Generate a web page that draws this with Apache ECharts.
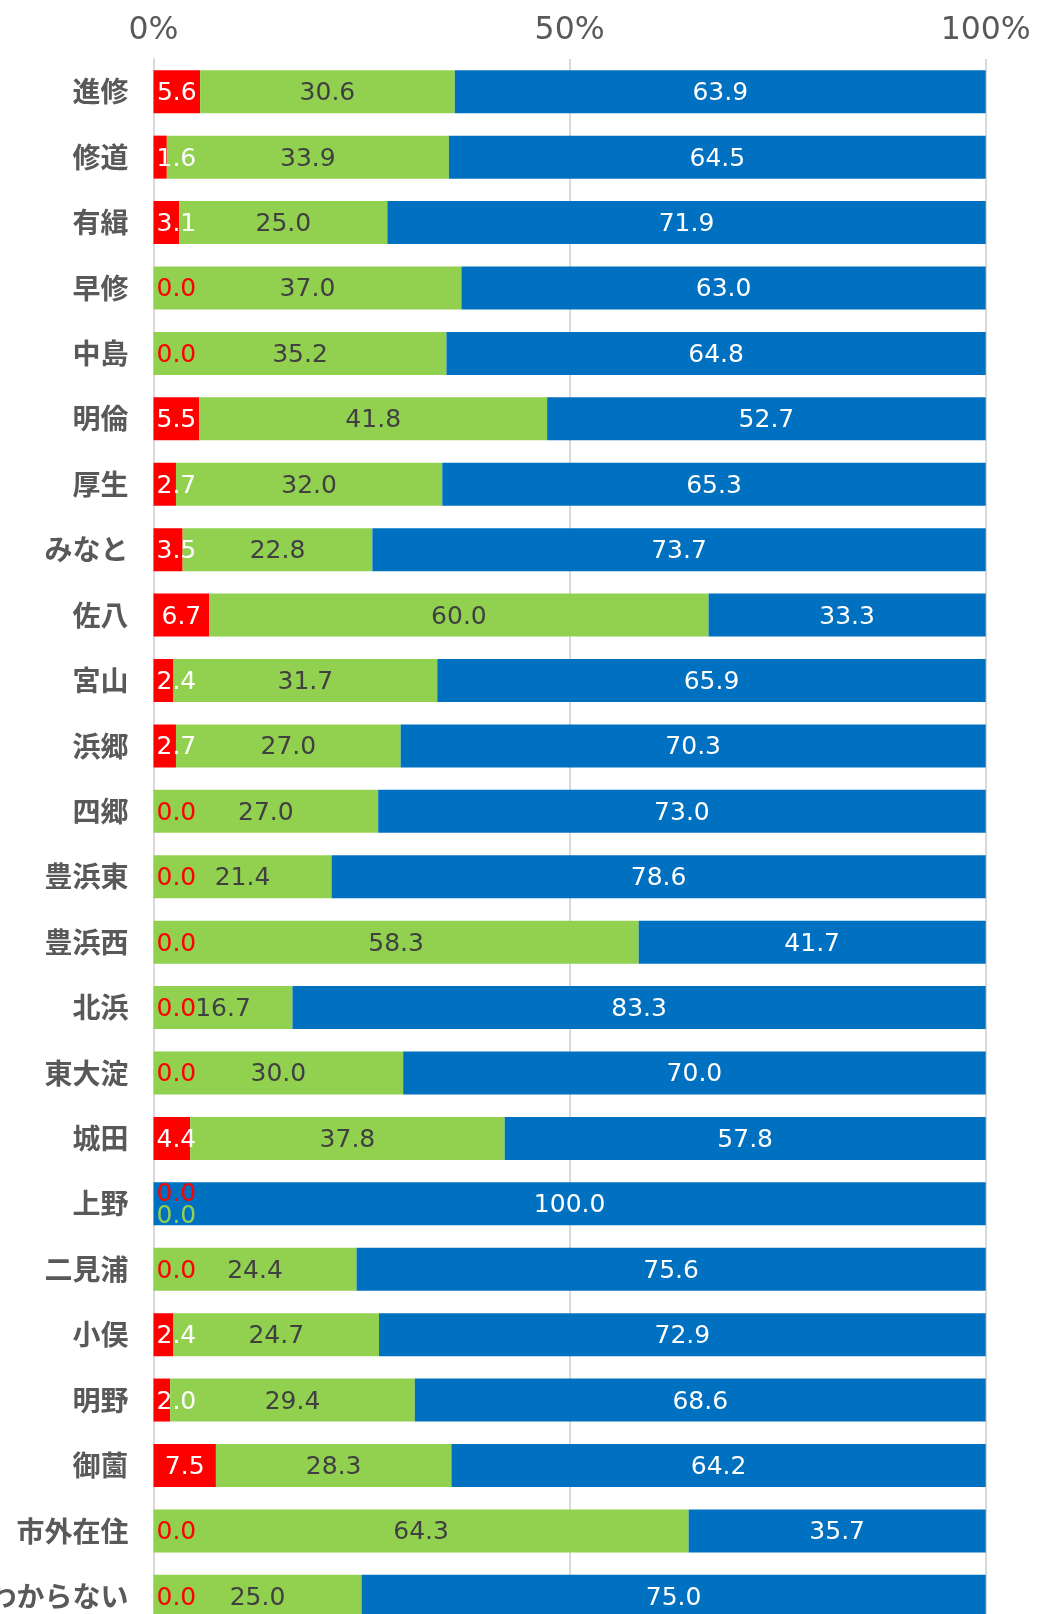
<!DOCTYPE html>
<html>
<head>
<meta charset="utf-8">
<script src="https://cdn.jsdelivr.net/npm/echarts@6/dist/echarts.min.js"></script>
<style>
html,body{margin:0;padding:0;background:#fff;}
#chart{width:1045px;height:1614px;}
</style>
</head>
<body>
<div id="chart"></div>
<script>
const categories = ['進修','修道','有緝','早修','中島','明倫','厚生','みなと','佐八','宮山','浜郷','四郷','豊浜東','豊浜西','北浜','東大淀','城田','上野','二見浦','小俣','明野','御薗','市外在住','わからない'];
const redValues   = [5.6, 1.6, 3.1, 0.0, 0.0, 5.5, 2.7, 3.5, 6.7, 2.4, 2.7, 0.0, 0.0, 0.0, 0.0, 0.0, 4.4, 0.0, 0.0, 2.4, 2.0, 7.5, 0.0, 0.0];
const greenValues = [30.6, 33.9, 25.0, 37.0, 35.2, 41.8, 32.0, 22.8, 60.0, 31.7, 27.0, 27.0, 21.4, 58.3, 16.7, 30.0, 37.8, 0.0, 24.4, 24.7, 29.4, 28.3, 64.3, 25.0];
const blueValues  = [63.9, 64.5, 71.9, 63.0, 64.8, 52.7, 65.3, 73.7, 33.3, 65.9, 70.3, 73.0, 78.6, 41.7, 83.3, 70.0, 57.8, 100.0, 75.6, 72.9, 68.6, 64.2, 35.7, 75.0];
const tickLabels = {0: '0%', 50: '50%', 100: '100%'};

const RED = '#FF0000', GREEN = '#92D050', BLUE = '#0070C0';
const FONT = '"Noto Sans CJK JP", "Noto Sans", sans-serif';
const NUMFONT = '"DejaVu Sans", "Noto Sans", sans-serif';

const chart = echarts.init(document.getElementById('chart'), null, {renderer: 'canvas'});

function keepInside(params, dy) {
  const dx = Math.max(0, params.rect.x + 3 - params.labelRect.x);
  return {dx: dx, dy: dy + 2};
}

const labelBase = {
  show: true,
  position: 'inside',
  fontSize: 25,
  fontFamily: NUMFONT,
  formatter: p => Number(p.value).toFixed(1)
};

chart.setOption({
  animation: false,
  backgroundColor: '#ffffff',
  grid: {
    left: 153.5,
    right: 59.3,
    top: 59,
    height: 1570,
    containLabel: false,
    outerBoundsMode: 'none'
  },
  xAxis: {
    type: 'value',
    position: 'top',
    min: 0,
    max: 100,
    interval: 50,
    axisLine: {show: false},
    axisTick: {show: false},
    splitLine: {show: true, lineStyle: {color: '#d9d9d9', width: 2}},
    axisLabel: {
      fontSize: 31.5,
      color: '#595959',
      fontFamily: NUMFONT,
      margin: 12,
      formatter: v => tickLabels[v] !== undefined ? tickLabels[v] : v + '%'
    }
  },
  yAxis: {
    type: 'category',
    inverse: true,
    data: categories,
    axisTick: {show: false},
    axisLine: {show: true, lineStyle: {color: '#d9d9d9', width: 2}},
    axisLabel: {
      fontSize: 28,
      color: '#595959',
      fontFamily: FONT,
      fontWeight: 'bold',
      margin: 25
    }
  },
  series: [
    {
      name: 'red',
      type: 'bar',
      stack: 'total',
      barWidth: 43,
      itemStyle: {color: RED},
      label: Object.assign({}, labelBase),
      labelLayout: function (params) {
        const i = params.dataIndex;
        const dy = (redValues[i] === 0 && greenValues[i] === 0) ? -11 : 0;
        return keepInside(params, dy);
      },
      data: redValues.map(v => ({value: v, label: {color: v === 0 ? RED : '#ffffff'}}))
    },
    {
      name: 'green',
      type: 'bar',
      stack: 'total',
      barWidth: 43,
      itemStyle: {color: GREEN},
      label: Object.assign({}, labelBase),
      labelLayout: function (params) {
        const i = params.dataIndex;
        const dy = (greenValues[i] === 0) ? 11 : 0;
        return keepInside(params, dy);
      },
      data: greenValues.map(v => ({value: v, label: {color: v === 0 ? GREEN : '#404040'}}))
    },
    {
      name: 'blue',
      type: 'bar',
      stack: 'total',
      barWidth: 43,
      itemStyle: {color: BLUE},
      label: Object.assign({}, labelBase, {color: '#ffffff', offset: [0, 2]}),
      data: blueValues
    }
  ]
});
</script>
</body>
</html>
